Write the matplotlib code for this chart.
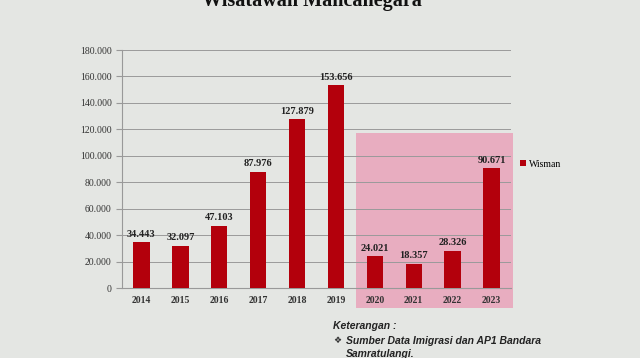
import matplotlib.pyplot as plt
from matplotlib.patches import Rectangle
from matplotlib.ticker import FuncFormatter

years = ['2014', '2015', '2016', '2017', '2018', '2019', '2020', '2021', '2022', '2023']
wisman = [34443, 32097, 47103, 87976, 127879, 153656, 24021, 18357, 28326, 90671]
value_labels = ['34.443', '32.097', '47.103', '87.976', '127.879', '153.656',
                '24.021', '18.357', '28.326', '90.671']

serif = 'Liberation Serif'
bg = '#e4e6e3'

fig = plt.figure(figsize=(6.4, 3.58), dpi=100, facecolor=bg)
ax = fig.add_axes([0.1906, 0.1955, 0.6078, 0.6648])
ax.set_facecolor(bg)

x = range(len(years))
ax.bar(x, wisman, width=0.42, color='#b3000c', label='Wisman', zorder=3)

# highlight 2020-2023
ax.add_patch(Rectangle((5.52, -15000), 4.02, 132000, facecolor='#e9a7bd',
                       edgecolor='none', alpha=0.9, clip_on=False, zorder=1))

for xi, v, lab in zip(x, wisman, value_labels):
    ax.text(xi, v + 2500, lab, ha='center', va='bottom', fontsize=7.5,
            fontweight='bold', family=serif, color='#222222', zorder=4)

ax.set_ylim(0, 180000)
ax.set_xlim(-0.5, 9.5)
ax.set_yticks(range(0, 180001, 20000))
ax.yaxis.set_major_formatter(FuncFormatter(lambda v, p: f'{int(v):,}'.replace(',', '.')))
ax.set_xticks(list(x))
ax.set_xticklabels(years, fontweight='bold')
ax.grid(axis='y', color='#9a9a9a', linewidth=0.7, zorder=2)
ax.tick_params(axis='y', length=4, color='#999999', labelsize=7, labelcolor='#333333')
ax.tick_params(axis='x', length=0, labelsize=7, labelcolor='#333333', pad=6)
for lbl in ax.get_xticklabels() + ax.get_yticklabels():
    lbl.set_family(serif)
for s in ['top', 'right']:
    ax.spines[s].set_visible(False)
for s in ['left', 'bottom']:
    ax.spines[s].set_color('#999999')

ax.legend(loc='center left', bbox_to_anchor=(1.0, 0.52), frameon=False,
          prop={'family': serif, 'size': 7}, handlelength=0.6, handleheight=0.6,
          handletextpad=0.4)

fig.text(0.488, 0.982, 'Wisatawan Mancanegara', ha='center', va='baseline',
         fontsize=14.5, fontweight='bold', family=serif, color='#111111')

sans = ['Liberation Sans', 'DejaVu Sans']
fig.text(0.52, 0.09, 'Keterangan :', fontsize=7.5, fontweight='bold',
         style='italic', family=sans, color='#222222', va='center')
fig.text(0.52, 0.048, '\u2756', fontsize=6.5, family=['DejaVu Sans'],
         color='#333333', va='center')
fig.text(0.54, 0.048, 'Sumber Data Imigrasi dan AP1 Bandara', fontsize=7.5,
         fontweight='bold', style='italic', family=sans, color='#222222', va='center')
fig.text(0.54, 0.012, 'Samratulangi.', fontsize=7.5, fontweight='bold',
         style='italic', family=sans, color='#222222', va='center')

fig.savefig('out.png', dpi=100, facecolor=bg)
